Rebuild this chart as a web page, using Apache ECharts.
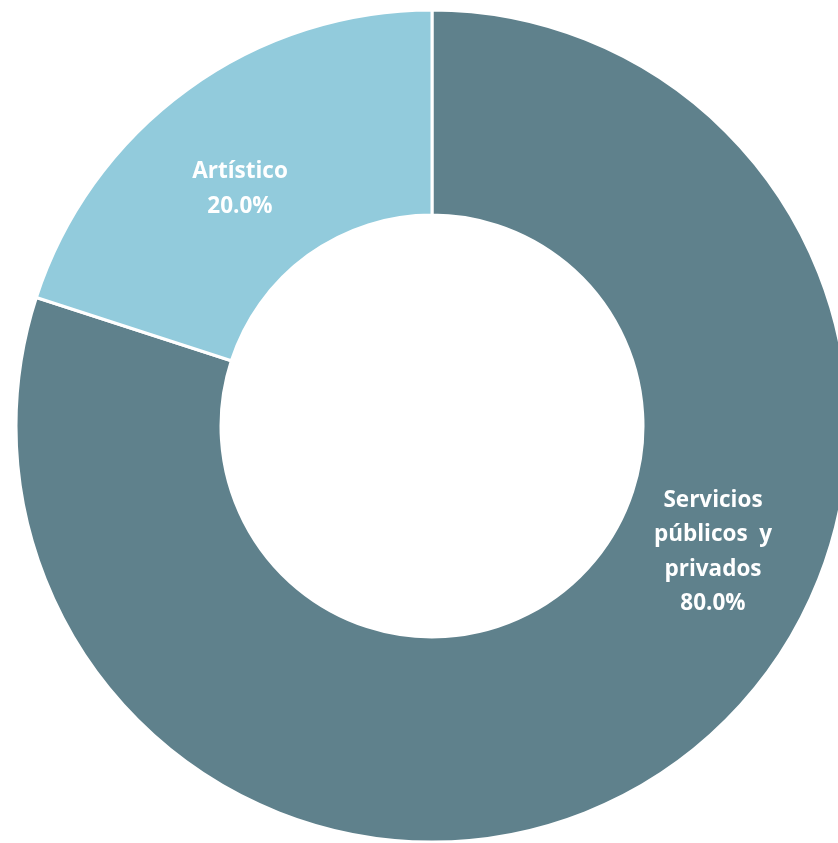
<!DOCTYPE html>
<html>
<head>
<meta charset="utf-8">
<script src="https://cdn.jsdelivr.net/npm/echarts@6/dist/echarts.min.js"></script>
<style>
  html, body { margin: 0; padding: 0; background: #ffffff; }
  #chart { width: 838px; height: 843px; }
</style>
</head>
<body>
<div id="chart"></div>
<script>
// data
var categories = ['Servicios\npúblicos  y\nprivados', 'Artístico'];
var shares = [80.0, 20.0];
var colors = ['#5F818C', '#92CBDC'];

// where the labels sit (Excel puts them off the mid angle)
var labelSpots = [[713, 552], [240, 189]];

var dom = document.getElementById('chart');
var myChart = echarts.init(dom);

var pieData = categories.map(function (name, i) {
    return { name: name, value: shares[i], itemStyle: { color: colors[i] } };
});

myChart.setOption({
    animation: false,
    series: [{
        type: 'pie',
        center: [432, 426],
        radius: [211, 416],
        startAngle: 90,
        clockwise: true,
        data: pieData,
        itemStyle: { borderColor: '#ffffff', borderWidth: 3 },
        label: {
            show: true,
            position: 'inside',
            color: '#ffffff',
            fontFamily: '"Open Sans", Lato, sans-serif',
            fontWeight: 'bold',
            fontSize: 22.5,
            lineHeight: 34.5,
            align: 'center',
            formatter: function (p) {
                return p.name + '\n' + p.value.toFixed(1) + '%';
            }
        },
        labelLine: { show: false },
        labelLayout: function (params) {
            var spot = labelSpots[params.dataIndex];
            return { x: spot[0], y: spot[1], align: 'center', verticalAlign: 'middle' };
        }
    }]
});
</script>
</body>
</html>
